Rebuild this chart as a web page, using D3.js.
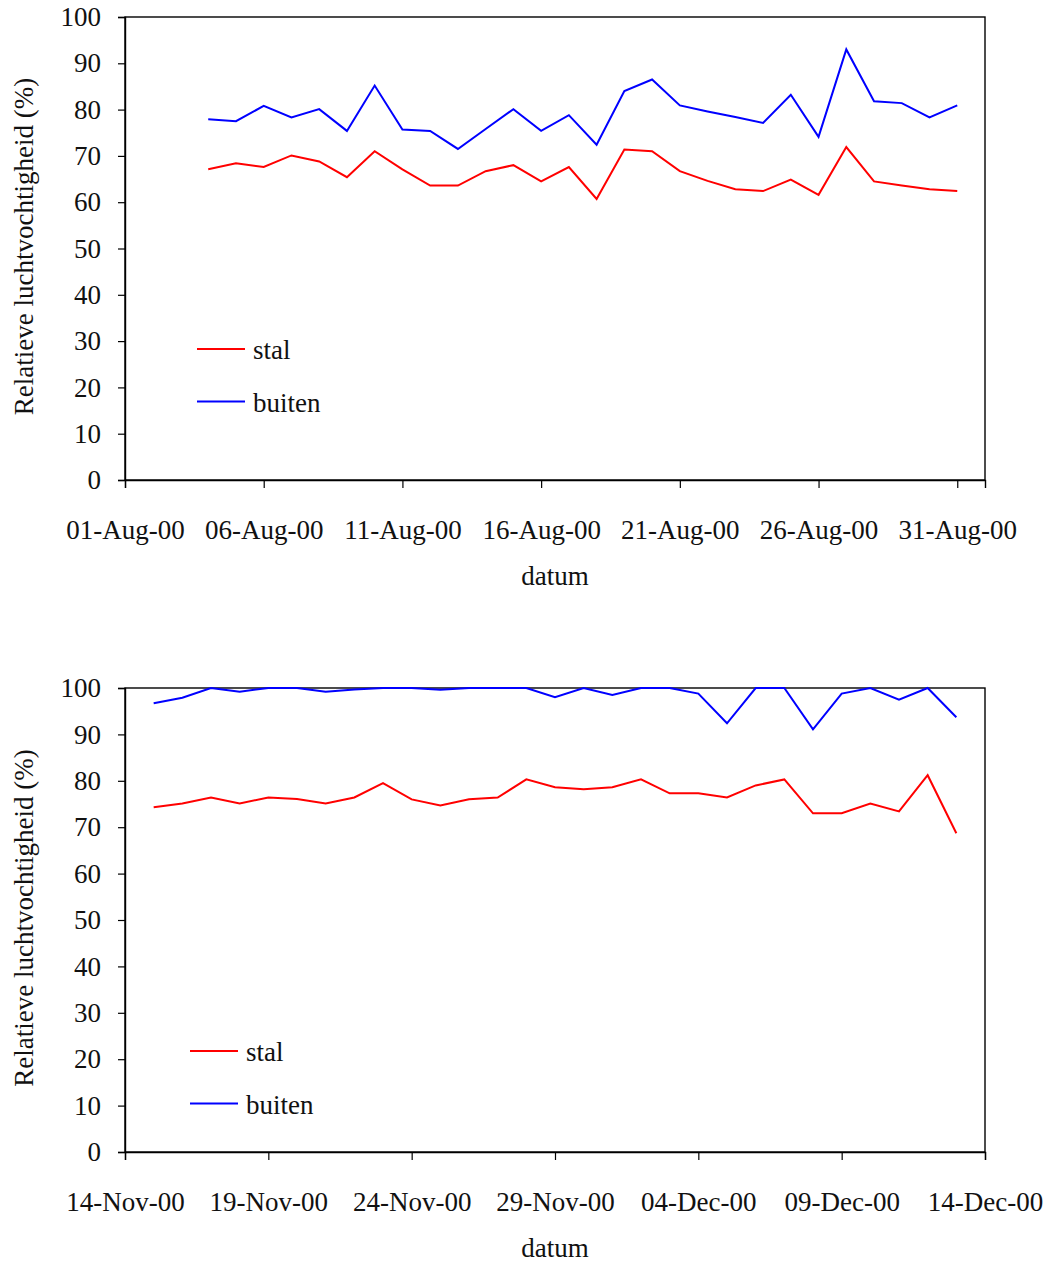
<!DOCTYPE html>
<html>
<head>
<meta charset="utf-8">
<script src="https://cdn.jsdelivr.net/npm/d3@7/dist/d3.min.js"></script>
<style>
  html, body { margin: 0; padding: 0; background: #fff; }
  svg { display: block; }
  text { font-family: "Liberation Serif", "DejaVu Serif", serif; fill: #111; }
</style>
</head>
<body>
<svg id="chart" width="1052" height="1265"></svg>
<script>
// Relative humidity, daily means — August 2000
const augStart = "2000-08-04";
const augStal   = [67.1, 68.4, 67.6, 70.1, 68.8, 65.4, 71.0, 67.1, 63.6, 63.6, 66.7, 68.0, 64.5, 67.6,
                   60.7, 71.4, 71.0, 66.7, 64.6, 62.8, 62.4, 64.9, 61.6, 71.9, 64.5, 63.6, 62.8, 62.4];
const augBuiten = [77.9, 77.5, 80.8, 78.3, 80.1, 75.4, 85.2, 75.7, 75.4, 71.5, 75.8, 80.1, 75.4, 78.8,
                   72.4, 84.0, 86.5, 80.9, 79.6, 78.4, 77.1, 83.2, 74.1, 93.0, 81.8, 81.4, 78.3, 80.9];
const augTicks  = ["2000-08-01", "2000-08-06", "2000-08-11", "2000-08-16", "2000-08-21", "2000-08-26", "2000-08-31"];
const augDomain = ["2000-08-01", "2000-09-01"];

// Relative humidity, daily means — November/December 2000
const novStart = "2000-11-15";
const novStal   = [74.3, 75.1, 76.4, 75.1, 76.4, 76.1, 75.1, 76.4, 79.5, 76.0, 74.7, 76.0, 76.4, 80.3, 78.6,
                   78.2, 78.6, 80.3, 77.3, 77.3, 76.4, 79.0, 80.3, 73.0, 73.0, 75.1, 73.4, 81.2, 68.7];
const novBuiten = [96.7, 97.9, 100, 99.2, 100, 100, 99.2, 99.7, 100, 100, 99.6, 100, 100, 100, 98.0,
                   100, 98.5, 100, 100, 98.8, 92.4, 100, 100, 91.1, 98.8, 100, 97.5, 100, 93.7];
const novTicks  = ["2000-11-14", "2000-11-19", "2000-11-24", "2000-11-29", "2000-12-04", "2000-12-09", "2000-12-14"];
const novDomain = ["2000-11-14", "2000-12-14"];

const yTicks = [0, 10, 20, 30, 40, 50, 60, 70, 80, 90, 100];
const seriesNames = ["stal", "buiten"];
const seriesColors = ["#ff0000", "#0000ff"];
const yTitle = "Relatieve luchtvochtigheid (%)";
const xTitle = "datum";

const parse = d3.utcParse("%Y-%m-%d");
const fmt = d3.utcFormat("%d-%b-%y");

function daily(start, values) {
  const t0 = parse(start);
  return values.map((v, i) => ({ date: d3.utcDay.offset(t0, i), value: v }));
}

const svg = d3.select("#chart");

function drawPanel(cfg) {
  const g = svg.append("g");
  const x = d3.scaleUtc().domain(cfg.domain.map(parse)).range([cfg.left, cfg.right]);
  const y = d3.scaleLinear().domain([0, 100]).range([cfg.bottom, cfg.top]);

  // frame
  g.append("rect")
    .attr("x", cfg.left).attr("y", cfg.top)
    .attr("width", cfg.right - cfg.left).attr("height", cfg.bottom - cfg.top)
    .attr("fill", "none").attr("stroke", "#000").attr("stroke-width", 1.4);

  // y axis
  const ya = g.append("g")
    .attr("transform", `translate(${cfg.left},0)`)
    .call(d3.axisLeft(y).tickValues(yTicks).tickSize(7).tickPadding(17).tickFormat(d3.format("d")));
  ya.select(".domain").attr("stroke", "#000").attr("stroke-width", 1.4);
  ya.selectAll(".tick line").attr("stroke", "#000").attr("stroke-width", 1.2);
  ya.selectAll(".tick text")
    .style("font-family", "'Liberation Serif', serif").style("font-size", "27px").attr("fill", "#111");

  // x axis
  const xa = g.append("g")
    .attr("transform", `translate(0,${cfg.bottom})`)
    .call(d3.axisBottom(x).tickValues(cfg.ticks.map(parse)).tickSize(8).tickPadding(32).tickFormat(fmt));
  xa.select(".domain").attr("stroke", "#000").attr("stroke-width", 1.4);
  xa.selectAll(".tick line").attr("stroke", "#000").attr("stroke-width", 1.2);
  xa.selectAll(".tick text")
    .style("font-family", "'Liberation Serif', serif").style("font-size", "27px").attr("fill", "#111");

  // axis titles
  g.append("text")
    .attr("x", (cfg.left + cfg.right) / 2).attr("y", cfg.bottom + 105)
    .attr("text-anchor", "middle").style("font-size", "27px").text(xTitle);
  g.append("text")
    .attr("transform", `translate(33,${(cfg.top + cfg.bottom) / 2 - 2}) rotate(-90)`)
    .attr("text-anchor", "middle").style("font-size", "27px").text(yTitle);

  // series lines
  const line = d3.line().x(d => x(d.date)).y(d => y(d.value));
  cfg.series.forEach((s, i) => {
    g.append("path")
      .datum(daily(cfg.start, s))
      .attr("fill", "none").attr("stroke", seriesColors[i]).attr("stroke-width", 2)
      .attr("stroke-linejoin", "miter").attr("d", line);
  });

  // legend
  seriesNames.forEach((name, i) => {
    const ly = cfg.legendY + i * 52.5;
    g.append("line")
      .attr("x1", cfg.legendX).attr("x2", cfg.legendX + 48)
      .attr("y1", ly).attr("y2", ly)
      .attr("stroke", seriesColors[i]).attr("stroke-width", 2);
    g.append("text")
      .attr("x", cfg.legendX + 56).attr("y", ly + 10)
      .style("font-size", "27px").text(name);
  });
}

drawPanel({
  left: 125, right: 985, top: 17, bottom: 480,
  domain: augDomain, ticks: augTicks, start: augStart,
  series: [augStal, augBuiten], legendX: 197, legendY: 349
});

drawPanel({
  left: 125, right: 985, top: 688, bottom: 1152,
  domain: novDomain, ticks: novTicks, start: novStart,
  series: [novStal, novBuiten], legendX: 190, legendY: 1051
});
</script>
</body>
</html>
